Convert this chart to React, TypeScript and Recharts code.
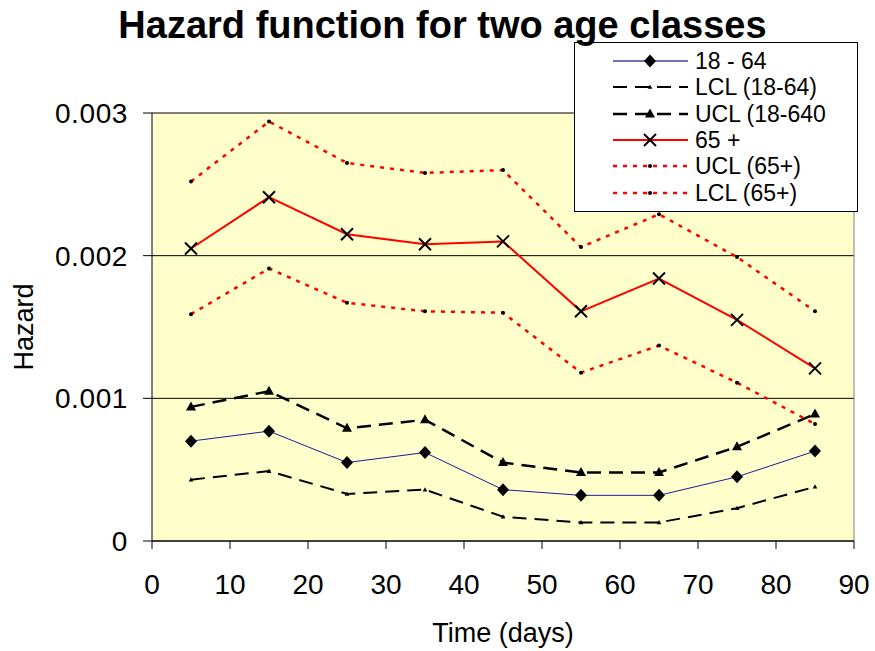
import React from 'react';
import { LineChart, Line, XAxis, YAxis, CartesianGrid, Legend, ReferenceLine } from 'recharts';

const times = [5, 15, 25, 35, 45, 55, 65, 75, 85];
const age1864 = [0.0007, 0.00077, 0.00055, 0.00062, 0.00036, 0.00032, 0.00032, 0.00045, 0.00063];
const lcl1864 = [0.00043, 0.00049, 0.00033, 0.00036, 0.00017, 0.00013, 0.00013, 0.00023, 0.00038];
const ucl1864 = [0.00094, 0.00105, 0.00079, 0.00085, 0.00055, 0.00048, 0.00048, 0.00066, 0.00089];
const age65 = [0.00205, 0.00241, 0.00215, 0.00208, 0.0021, 0.00161, 0.00184, 0.00155, 0.00121];
const ucl65 = [0.00252, 0.00294, 0.00265, 0.00258, 0.0026, 0.00206, 0.00229, 0.00199, 0.00161];
const lcl65 = [0.00159, 0.00191, 0.00167, 0.00161, 0.0016, 0.00118, 0.00137, 0.00111, 0.00082];

const xTicks = [0, 10, 20, 30, 40, 50, 60, 70, 80, 90];
const yTicks = [0, 0.001, 0.002, 0.003];

const title = 'Hazard function for two age classes';
const xTitle = 'Time (days)';
const yTitle = 'Hazard';

const FONT = '"Liberation Sans", Arial, sans-serif';

const data = times.map((t, i) => ({
  t,
  a1864: age1864[i],
  lcl1864: lcl1864[i],
  ucl1864: ucl1864[i],
  a65: age65[i],
  ucl65: ucl65[i],
  lcl65: lcl65[i],
}));

type MarkerKind = 'diamond' | 'smallTri' | 'tri' | 'cross' | 'dot';

function Marker({ kind, cx, cy }: { kind: MarkerKind; cx: number; cy: number }) {
  switch (kind) {
    case 'diamond':
      return <polygon points={`${cx},${cy - 6.5} ${cx + 6},${cy} ${cx},${cy + 6.5} ${cx - 6},${cy}`} fill="#000" />;
    case 'tri':
      return <polygon points={`${cx},${cy - 5.5} ${cx + 5},${cy + 3.5} ${cx - 5},${cy + 3.5}`} fill="#000" />;
    case 'smallTri':
      return <polygon points={`${cx},${cy - 2.5} ${cx + 2.3},${cy + 1.8} ${cx - 2.3},${cy + 1.8}`} fill="#000" />;
    case 'cross':
      return (
        <g stroke="#000" strokeWidth={2}>
          <line x1={cx - 6} y1={cy - 6} x2={cx + 6} y2={cy + 6} />
          <line x1={cx - 6} y1={cy + 6} x2={cx + 6} y2={cy - 6} />
        </g>
      );
    default:
      return <circle cx={cx} cy={cy} r={2} fill="#000" />;
  }
}

const series: { key: string; name: string; stroke: string; width: number; dash?: string; marker: MarkerKind }[] = [
  { key: 'a1864', name: '18 - 64', stroke: '#1a1a9a', width: 1, marker: 'diamond' },
  { key: 'lcl1864', name: 'LCL (18-64)', stroke: '#000', width: 2, dash: '14 8', marker: 'smallTri' },
  { key: 'ucl1864', name: 'UCL (18-640', stroke: '#000', width: 2.5, dash: '14 8', marker: 'tri' },
  { key: 'a65', name: '65 +', stroke: '#FF0000', width: 2, marker: 'cross' },
  { key: 'ucl65', name: 'UCL (65+)', stroke: '#FF0000', width: 2.5, dash: '4 6', marker: 'dot' },
  { key: 'lcl65', name: 'LCL (65+)', stroke: '#FF0000', width: 2.5, dash: '4 6', marker: 'dot' },
];

function LegendBox() {
  return (
    <div
      style={{
        width: 284,
        height: 170,
        boxSizing: 'border-box',
        border: '1px solid #000',
        background: '#fff',
        paddingTop: 5,
        fontFamily: FONT,
        fontSize: 23,
        color: '#000',
      }}
    >
      {series.map((s) => (
        <div key={s.key} style={{ height: 26.3, display: 'flex', alignItems: 'center' }}>
          <svg width={76} height={26} style={{ marginLeft: 38, display: 'block' }}>
            <line x1={0} y1={13} x2={75} y2={13} stroke={s.stroke === '#1a1a9a' ? '#7070c0' : s.stroke} strokeWidth={s.width === 1 ? 2 : s.width} strokeDasharray={s.dash} />
            <Marker kind={s.marker} cx={37} cy={13} />
          </svg>
          <span style={{ marginLeft: 6, whiteSpace: 'nowrap', lineHeight: '26px' }}>{s.name}</span>
        </div>
      ))}
    </div>
  );
}

export default function App() {
  return (
    <div style={{ position: 'absolute', left: 0, top: 0, width: 875, height: 651, background: '#fff' }}>
      <LineChart width={875} height={651} data={data} margin={{ top: 113, right: 21, left: 52, bottom: 50 }}>
        <CartesianGrid vertical={false} stroke="#000" strokeWidth={1} fill="#FFFFCC" fillOpacity={1} />
        <XAxis
          dataKey="t"
          type="number"
          domain={[0, 90]}
          ticks={xTicks}
          height={60}
          axisLine={{ stroke: '#000' }}
          tickLine={{ stroke: '#000' }}
          tickSize={8}
          tickMargin={25}
          interval={0}
          tick={{ fontSize: 28, fill: '#000', fontFamily: FONT }}
          label={{
            content: (p: any) => {
              const vb = p.viewBox || { x: 152, width: 702, y: 541 };
              return (
                <text x={vb.x + vb.width / 2} y={642} textAnchor="middle" fontSize={27} fontFamily={FONT} fill="#000">
                  {xTitle}
                </text>
              );
            },
          }}
        />
        <YAxis
          type="number"
          domain={[0, 0.003]}
          ticks={yTicks}
          width={100}
          axisLine={{ stroke: '#000' }}
          tickLine={{ stroke: '#000' }}
          tickSize={9}
          tickMargin={15}
          interval={0}
          tickFormatter={(v: number) => String(v)}
          tick={{ fontSize: 28, fill: '#000', fontFamily: FONT, letterSpacing: 0.6 }}
          label={{
            content: (p: any) => {
              const vb = p.viewBox || { x: 52, y: 113, height: 428 };
              const cx = vb.x - 19;
              const cy = vb.y + vb.height / 2;
              return (
                <text x={cx} y={cy} transform={`rotate(-90 ${cx} ${cy})`} textAnchor="middle" fontSize={27} fontFamily={FONT} fill="#000">
                  {yTitle}
                </text>
              );
            },
          }}
        />
        <ReferenceLine x={90} stroke="#808080" strokeWidth={1} />
        {series.map((s) => (
          <Line
            key={s.key}
            type="linear"
            dataKey={s.key}
            name={s.name}
            stroke={s.stroke}
            strokeWidth={s.width}
            strokeDasharray={s.dash}
            isAnimationActive={false}
            activeDot={false}
            dot={(p: any) => <Marker key={`${s.key}-${p.index}`} kind={s.marker} cx={p.cx} cy={p.cy} />}
          />
        ))}
        <Legend
          layout="horizontal"
          verticalAlign="middle"
          align="center"
          wrapperStyle={{ left: 574, top: 42, width: 284, height: 170 }}
          content={() => <LegendBox />}
        />
      </LineChart>
      <div
        style={{
          position: 'absolute',
          left: 0,
          top: 6,
          width: 885,
          textAlign: 'center',
          fontFamily: FONT,
          fontWeight: 'bold',
          fontSize: 38,
          lineHeight: '38px',
          color: '#000',
          whiteSpace: 'nowrap',
        }}
      >
        {title}
      </div>
    </div>
  );
}
